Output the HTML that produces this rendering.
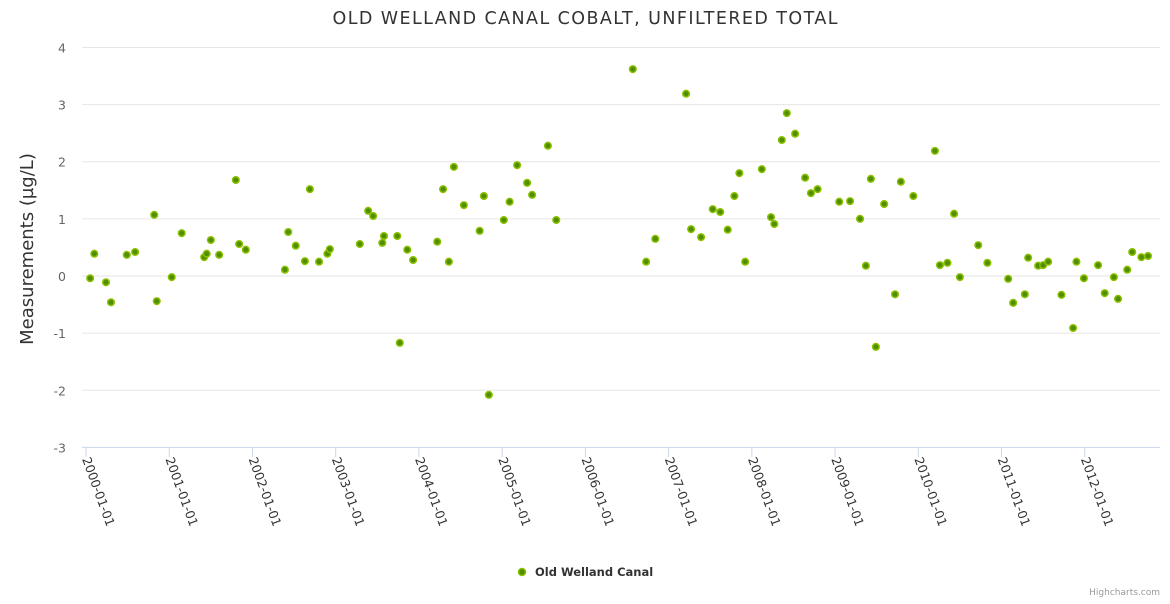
<!DOCTYPE html>
<html><head><meta charset="utf-8"><style>
body{margin:0;background:#fff;font-family:"DejaVu Sans",sans-serif}
</style></head><body>
<svg id="chart" width="1170" height="600" xmlns="http://www.w3.org/2000/svg" font-family="DejaVu Sans, sans-serif">
<text x="585" y="24" text-anchor="middle" font-size="17.5" textLength="505" lengthAdjust="spacing" fill="#333">OLD WELLAND CANAL COBALT, UNFILTERED TOTAL</text>
<text transform="translate(33,249) rotate(-90)" text-anchor="middle" font-size="18" fill="#333">Measurements (µg/L)</text>
<g id="grid"></g><g id="xaxis"></g><g id="pts"></g>
<g>
<circle cx="522" cy="572" r="3.5" fill="#4f8f00" stroke="#8cc000" stroke-width="1.5"/>
<text x="535" y="576" font-size="11.5" font-weight="bold" fill="#333">Old Welland Canal</text></g>
<text x="1160" y="595" text-anchor="end" font-size="9" fill="#999">Highcharts.com</text>
</svg>
<script>
const years=[2000.05,2000.10,2000.24,2000.30,2000.49,2000.59,2000.82,2000.85,2001.03,2001.15,2001.42,2001.45,2001.50,2001.60,2001.80,2001.84,2001.92,2002.39,2002.43,2002.52,2002.63,2002.69,2002.80,2002.90,2002.93,2003.29,2003.39,2003.45,2003.56,2003.58,2003.74,2003.77,2003.86,2003.93,2004.22,2004.29,2004.36,2004.42,2004.54,2004.73,2004.78,2004.84,2005.02,2005.09,2005.18,2005.30,2005.36,2005.55,2005.65,2006.57,2006.73,2006.84,2007.21,2007.27,2007.39,2007.53,2007.62,2007.71,2007.79,2007.85,2007.92,2008.12,2008.23,2008.27,2008.36,2008.42,2008.52,2008.64,2008.71,2008.79,2009.05,2009.18,2009.30,2009.37,2009.43,2009.49,2009.59,2009.72,2009.79,2009.94,2010.20,2010.26,2010.35,2010.43,2010.50,2010.72,2010.83,2011.08,2011.14,2011.28,2011.32,2011.44,2011.50,2011.56,2011.72,2011.86,2011.90,2011.99,2012.16,2012.24,2012.35,2012.40,2012.51,2012.57,2012.68,2012.76];
const values=[-0.04,0.39,-0.11,-0.46,0.37,0.42,1.07,-0.44,-0.02,0.75,0.33,0.39,0.63,0.37,1.68,0.56,0.46,0.11,0.77,0.53,0.26,1.52,0.25,0.39,0.47,0.56,1.14,1.05,0.58,0.70,0.70,-1.17,0.46,0.28,0.60,1.52,0.25,1.91,1.24,0.79,1.40,-2.08,0.98,1.30,1.94,1.63,1.42,2.28,0.98,3.62,0.25,0.65,3.19,0.82,0.68,1.17,1.12,0.81,1.40,1.80,0.25,1.87,1.03,0.91,2.38,2.85,2.49,1.72,1.45,1.52,1.30,1.31,1.00,0.18,1.70,-1.24,1.26,-0.32,1.65,1.40,2.19,0.19,0.23,1.09,-0.02,0.54,0.23,-0.05,-0.47,-0.32,0.32,0.18,0.19,0.25,-0.33,-0.91,0.25,-0.04,0.19,-0.30,-0.02,-0.40,0.11,0.42,0.33,0.35];
const yTicks=[4,3,2,1,0,-1,-2,-3];
const xTickYears=[2000,2001,2002,2003,2004,2005,2006,2007,2008,2009,2010,2011,2012];
const NS="http://www.w3.org/2000/svg";
const X=v=>86+(v-2000)*83.23;
const Y=v=>276-v*57.14;
function mk(t,a,p){const e=document.createElementNS(NS,t);for(const k in a)e.setAttribute(k,a[k]);p.appendChild(e);return e;}
const g=document.getElementById('grid'),xa=document.getElementById('xaxis'),pts=document.getElementById('pts');
yTicks.forEach(t=>{
 const l=mk('line',{x1:82,x2:1160,y1:Y(t),y2:Y(t),stroke:t===-3?'#ccd6eb':'#e6e6e6'},g);
 
 
 const tx=mk('text',{x:66,y:Y(t)+5,'text-anchor':'end','font-size':12.5,fill:'#666'},g);
 tx.textContent=t;
 
 
});
xTickYears.forEach(yr=>{
 const x=X(yr);
 const l=mk('line',{x1:x,x2:x,y1:447,y2:457,stroke:'#ccd6eb'},xa);
 
 
 const tx=mk('text',{transform:`translate(${x-4},459) rotate(70)`,'font-size':12.5,fill:'#333'},xa);
 tx.textContent=yr+'-01-01';
 
 
});
years.forEach((yr,i)=>{
 const c=mk('circle',{cx:X(yr),cy:Y(values[i]),r:3.3,fill:'#4f8f00',stroke:'#8cc000','stroke-width':1.5},pts);
 
 
});
</script>
</body></html>
